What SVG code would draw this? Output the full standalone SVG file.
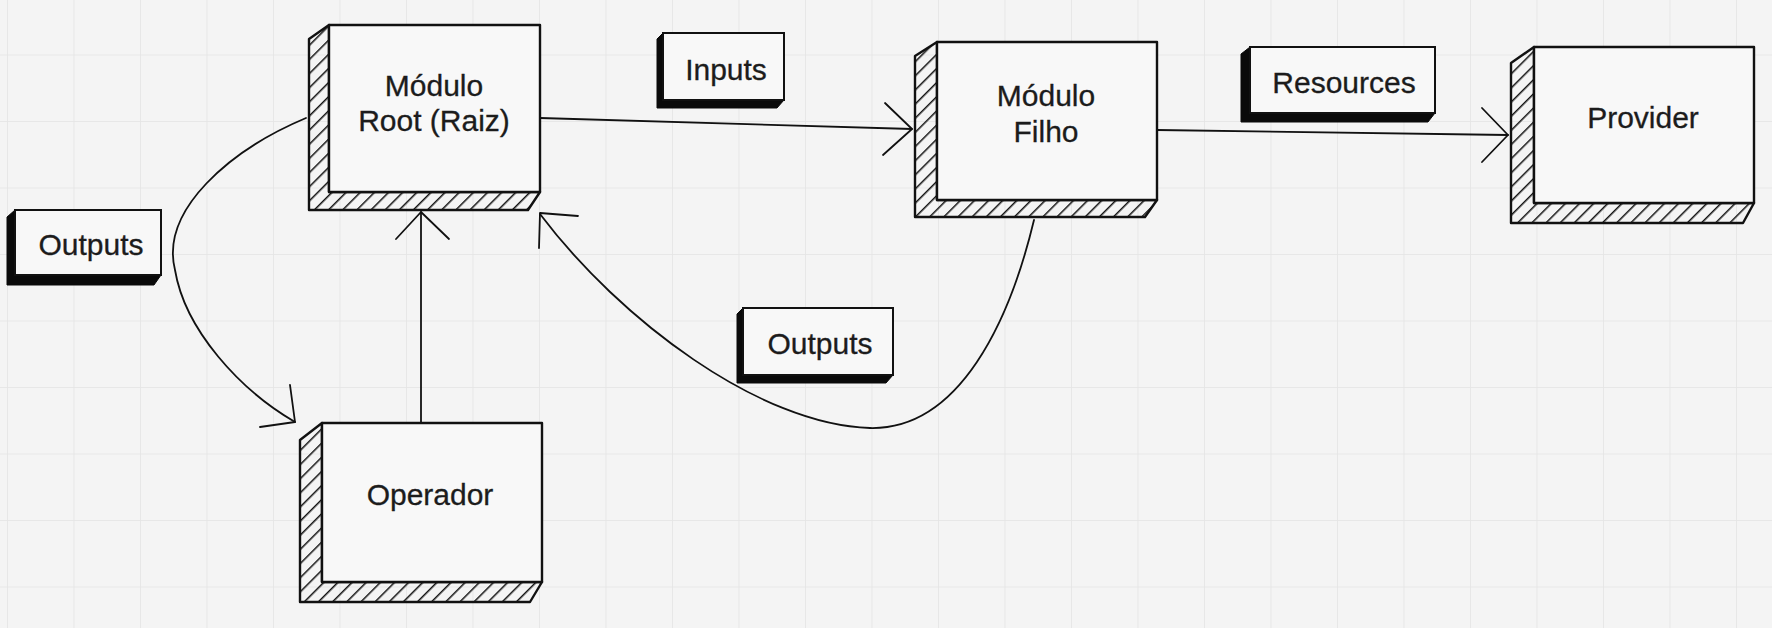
<svg xmlns="http://www.w3.org/2000/svg" width="1772" height="628" viewBox="0 0 1772 628">
  <defs>
    <pattern id="grid" x="7" y="54.5" width="66.5" height="66.5" patternUnits="userSpaceOnUse">
      <path d="M0 0 H66.5 M0 0 V66.5" fill="none" stroke="#e4e4e4" stroke-width="1.6"/>
    </pattern>
    <pattern id="hatch" width="10" height="10" patternUnits="userSpaceOnUse" patternTransform="rotate(45)">
      <line x1="0" y1="0" x2="0" y2="10" stroke="#111" stroke-width="3"/>
    </pattern>
  </defs>
  <style>
    .face { fill: #f8f8f8; stroke: #111; stroke-width: 2.4; stroke-linejoin: round; }
    .side { fill: url(#hatch); stroke: #111; stroke-width: 2.4; stroke-linejoin: round; }
    .shadow { fill: #0a0a0a; stroke: #0a0a0a; stroke-width: 1; }
    .lbl { fill: #f8f8f8; stroke: #111; stroke-width: 2; }
    .txt { font-family: "Liberation Sans", Arial, Helvetica, sans-serif; font-size: 30px; fill: #1c1c1c; stroke: #1c1c1c; stroke-width: 0.3; text-anchor: middle; }
    .conn { fill: none; stroke: #111; stroke-width: 1.8; stroke-linecap: round; stroke-linejoin: round; }
  </style>

  <rect x="0" y="0" width="1772" height="628" fill="#f4f4f4"/>
  <rect x="0" y="0" width="1772" height="628" fill="url(#grid)"/>

  <g id="connectors">
    <!-- Root -> Filho (Inputs) -->
    <path class="conn" d="M540 118 L912 129"/>
    <polyline class="conn" points="885,103 912,129 883,155"/>
    <!-- Filho -> Provider (Resources) -->
    <path class="conn" d="M1157 130 L1508 135"/>
    <polyline class="conn" points="1482,108 1508,135 1482,162"/>
    <!-- Operador -> Root -->
    <path class="conn" d="M421 423 L421 212"/>
    <polyline class="conn" points="396,239 421,212 449,239"/>
    <!-- Root -> Operador (Outputs) -->
    <path class="conn" d="M306 118 C230 150 160 210 175 270 C185 330 240 390 295 422"/>
    <polyline class="conn" points="290,385 295,422 260,427"/>
    <!-- Filho -> Root (Outputs) -->
    <path class="conn" d="M1034 220 C1010 320 960 430 870 428 C760 425 620 320 540 214"/>
    <polyline class="conn" points="539,248 540,213 578,216"/>
  </g>

  <g id="node-root">
    <polygon class="side" points="329,25 309,39 309,210 528,210 540,192 329,192"/>
    <rect class="face" x="329" y="25" width="211" height="167"/>
    <text class="txt" x="434" y="96">Módulo</text>
    <text class="txt" x="434" y="131">Root (Raiz)</text>
  </g>

  <g id="node-filho">
    <polygon class="side" points="937,42 915,56 915,217 1145,217 1157,200 937,200"/>
    <rect class="face" x="937" y="42" width="220" height="158"/>
    <text class="txt" x="1046" y="106">Módulo</text>
    <text class="txt" x="1046" y="142">Filho</text>
  </g>

  <g id="node-provider">
    <polygon class="side" points="1534,47 1511,63 1511,223 1743,223 1754,203 1534,203"/>
    <rect class="face" x="1534" y="47" width="220" height="156"/>
    <text class="txt" x="1643" y="128">Provider</text>
  </g>

  <g id="node-operador">
    <polygon class="side" points="322,423 300,440 300,602 530,602 542,582 322,582"/>
    <rect class="face" x="322" y="423" width="220" height="159"/>
    <text class="txt" x="430" y="505">Operador</text>
  </g>

  <g id="label-outputs-left">
    <polygon class="shadow" points="15,210 7,217 7,285 154,285 161,275 15,275"/>
    <rect class="lbl" x="15" y="210" width="146" height="65"/>
    <text class="txt" x="91" y="255">Outputs</text>
  </g>

  <g id="label-inputs">
    <polygon class="shadow" points="663,33 657,39 657,108 777,108 784,100 663,100"/>
    <rect class="lbl" x="663" y="33" width="121" height="67"/>
    <text class="txt" x="726" y="80">Inputs</text>
  </g>

  <g id="label-resources">
    <polygon class="shadow" points="1250,47 1241,54 1241,122 1428,122 1435,113 1250,113"/>
    <rect class="lbl" x="1250" y="47" width="185" height="66"/>
    <text class="txt" x="1344" y="93">Resources</text>
  </g>

  <g id="label-outputs-mid">
    <polygon class="shadow" points="743,308 737,314 737,383 886,383 893,375 743,375"/>
    <rect class="lbl" x="743" y="308" width="150" height="67"/>
    <text class="txt" x="820" y="354">Outputs</text>
  </g>
</svg>
